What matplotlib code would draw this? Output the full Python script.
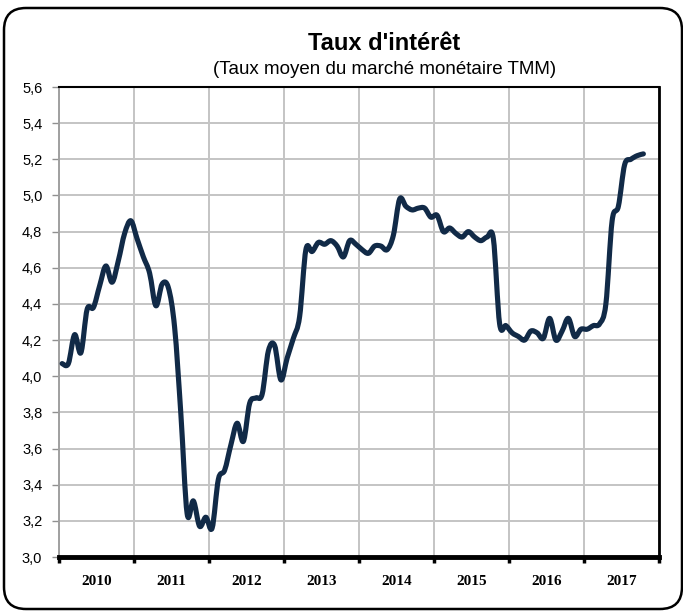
import numpy as np
import matplotlib
matplotlib.use("Agg")
import matplotlib.pyplot as plt
from matplotlib.path import Path
from matplotlib.patches import PathPatch, FancyBboxPatch
from matplotlib.transforms import IdentityTransform

# Monthly money-market rate (TMM), January 2010 to October 2017
years = ["2010", "2011", "2012", "2013", "2014", "2015", "2016", "2017"]
tmm_2010 = [4.07, 4.07, 4.23, 4.13, 4.37, 4.38, 4.50, 4.61, 4.52, 4.64, 4.79, 4.86]
tmm_2011 = [4.76, 4.66, 4.57, 4.39, 4.51, 4.49, 4.27, 3.79, 3.24, 3.31, 3.17, 3.22]
tmm_2012 = [3.16, 3.43, 3.48, 3.62, 3.74, 3.64, 3.85, 3.88, 3.90, 4.14, 4.17, 3.98]
tmm_2013 = [4.10, 4.21, 4.33, 4.70, 4.69, 4.74, 4.73, 4.75, 4.72, 4.66, 4.75, 4.73]
tmm_2014 = [4.70, 4.68, 4.72, 4.72, 4.70, 4.78, 4.98, 4.94, 4.92, 4.93, 4.93, 4.88]
tmm_2015 = [4.89, 4.80, 4.82, 4.79, 4.77, 4.80, 4.77, 4.75, 4.77, 4.76, 4.29, 4.28]
tmm_2016 = [4.24, 4.22, 4.20, 4.25, 4.24, 4.21, 4.32, 4.20, 4.25, 4.32, 4.22, 4.26]
tmm_2017 = [4.26, 4.28, 4.29, 4.40, 4.86, 4.94, 5.17, 5.20, 5.22, 5.23]

values = np.array(tmm_2010 + tmm_2011 + tmm_2012 + tmm_2013 +
                   tmm_2014 + tmm_2015 + tmm_2016 + tmm_2017)

W, H = 683, 611
fig = plt.figure(figsize=(W / 100, H / 100), dpi=100)
fig.patch.set_facecolor("white")

ax = fig.add_axes([59 / W, 1 - 557 / H, 600 / W, 470 / H])

# Smoothed line through the monthly points (cubic Bezier segments)
xs = np.arange(len(values)) + 0.5
pts = np.column_stack([xs, values])
n = len(pts)
verts = [pts[0]]
codes = [Path.MOVETO]
for i in range(n - 1):
    p0 = pts[i - 1] if i > 0 else pts[i]
    p1 = pts[i]
    p2 = pts[i + 1]
    p3 = pts[i + 2] if i + 2 < n else pts[i + 1]
    c1 = p1 + (p2 - p0) / 6.0
    c2 = p2 - (p3 - p1) / 6.0
    verts += [c1, c2, p2]
    codes += [Path.CURVE4] * 3
curve = PathPatch(Path(verts, codes), facecolor="none", edgecolor="#112a47",
                  lw=3.7, capstyle="round", joinstyle="round", zorder=3)
ax.add_patch(curve)

ax.set_xlim(0, 12 * len(years))
ax.set_ylim(3.0, 5.6)

# x axis: year boundaries as major ticks, year names centred in each year
ax.set_xticks(np.arange(0, 12 * len(years) + 1, 12))
ax.set_xticklabels([])
ax.set_xticks(np.arange(6, 12 * len(years), 12), minor=True)
ax.set_xticklabels(years, minor=True, family="Liberation Serif",
                   fontweight="bold", fontsize=11)
ax.tick_params(axis="x", which="major", direction="out", length=4,
               width=2.5, color="black")
ax.tick_params(axis="x", which="minor", length=0, pad=13)

yt = np.round(np.arange(3.0, 5.61, 0.2), 1)
ax.set_yticks(yt)
ax.set_yticklabels([f"{v:.1f}".replace(".", ",") for v in yt],
                   family="Liberation Sans", fontsize=10.5)
ax.tick_params(axis="y", direction="out", length=5, width=1,
               color="#909090", pad=7)

ax.grid(True, which="major", color="#c4c4c4", lw=1.4)
ax.set_axisbelow(True)

ax.spines["left"].set_color("#a0a0a0")
ax.spines["left"].set_linewidth(1.4)
ax.spines["bottom"].set_color("black")
ax.spines["bottom"].set_linewidth(3.5)
ax.spines["right"].set_color("black")
ax.spines["right"].set_linewidth(2)
ax.spines["top"].set_color("black")
ax.spines["top"].set_linewidth(1.5)

fig.text(384 / W, 1 - 43 / H, "Taux d'intérêt", ha="center", va="center",
         family="Liberation Sans", fontweight="bold", fontsize=17)
fig.text(385 / W, 1 - 69 / H, "(Taux moyen du marché monétaire TMM)",
         ha="center", va="center", family="Liberation Sans", fontsize=13.5)

# Rounded outer frame
frame = FancyBboxPatch((4, 2), 678, 601,
                       boxstyle="round,pad=0,rounding_size=22",
                       facecolor="none", edgecolor="black", lw=1.8,
                       transform=IdentityTransform())
fig.patches.append(frame)

fig.savefig("out.png", dpi=100)
